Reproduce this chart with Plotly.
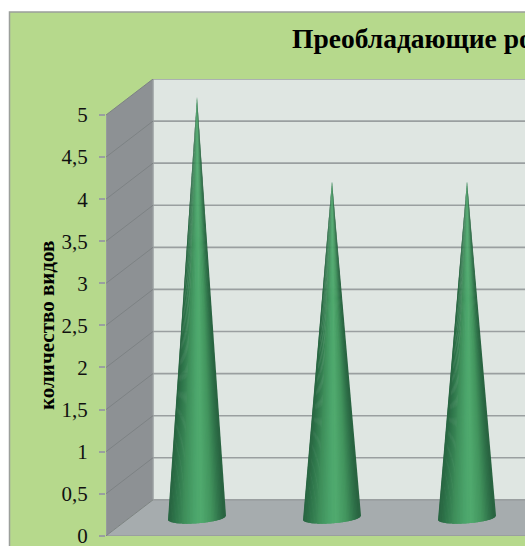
import numpy as np
import plotly.graph_objects as go

# --- data ---
cone_positions = [0, 1, 2]
cone_values = [5, 4, 4]
tick_values = [0, 0.5, 1, 1.5, 2, 2.5, 3, 3.5, 4, 4.5, 5]
tick_labels = ["0", "0,5", "1", "1,5", "2", "2,5", "3", "3,5", "4", "4,5", "5"]
title_text = "Преобладающие рода"
y_title = "количество видов"

# --- style ---
W, H = 525, 546
ML, MT, MB = 106, 79, 10
PX_X = 135.0
PX_Y = 84.2
DX = 47 / PX_X
DY = 36 / PX_Y
X0 = -91 / PX_X
X1 = X0 + (W - ML) / PX_X
Y1 = 5 + DY
HALF = 29 / PX_X
BMIN = 5.5 / PX_Y
TILT = 2.1 / PX_Y
N = 40
STOPS_U = [-1.0, -0.75, -0.4, 0.0, 0.2, 0.55, 0.85, 1.0]
STOPS_C = [(38, 96, 62), (46, 116, 74), (62, 142, 90), (76, 166, 108),
           (80, 170, 110), (66, 148, 94), (46, 112, 72), (40, 98, 64)]
GREY = "#9a9fa0"


def colour(u):
    c = [np.interp(u, STOPS_U, [s[k] for s in STOPS_C]) for k in range(3)]
    return "rgb(%d,%d,%d)" % tuple(int(round(v)) for v in c)


def base(pos, u):
    x = pos + HALF * u
    y = DY / 2 + TILT * u - BMIN * np.sqrt(max(0.0, 1 - u * u))
    return x, y


fig = go.Figure()

for pos, val in zip(cone_positions, cone_values):
    edges = np.linspace(-1, 1, N + 1)
    for i in range(N):
        a, b = edges[max(i - 1, 0)], edges[i + 1]
        mids = np.linspace(a, b, 5)
        pts = [base(pos, m) for m in mids]
        xs = [pos] + [p[0] for p in pts] + [pos]
        ys = [val + DY / 2] + [p[1] for p in pts] + [val + DY / 2]
        c = colour((edges[i] + edges[i + 1]) / 2)
        fig.add_trace(go.Scatter(x=xs, y=ys, mode="lines", fill="toself", fillcolor=c,
                                 line=dict(color=c, width=0), hoverinfo="skip",
                                 showlegend=False))

shapes = [
    dict(type="rect", xref="paper", yref="paper",
         x0=(9.5 - ML) / (W - ML), x1=1.05, y0=-0.1, y1=(H - MB - 12) / (H - MT - MB),
         fillcolor="#b6d98c", line=dict(color="#9b9f9b", width=1.5), layer="below"),
    dict(type="path", xref="x", yref="y", layer="below", line=dict(width=0), fillcolor="#8d9194",
         path=f"M{X0},0 L{X0 + DX},{DY} L{X0 + DX},{5 + DY} L{X0},5 Z"),
    dict(type="path", xref="x", yref="y", layer="below", line=dict(width=0), fillcolor="#a6acae",
         path=f"M{X0},0 L{X0 + DX},{DY} L{X1},{DY} L{X1},0 Z"),
    dict(type="rect", xref="x", yref="y", layer="below", line=dict(width=0), fillcolor="#dfe6e2",
         x0=X0 + DX, x1=X1, y0=DY, y1=5 + DY),
    dict(type="line", xref="x", yref="y", layer="below", line=dict(color=GREY, width=1.5),
         x0=X0 + DX, x1=X0 + DX, y0=DY, y1=5 + DY),
    dict(type="line", xref="x", yref="y", layer="below", line=dict(color=GREY, width=1.5),
         x0=X0, x1=X0, y0=0, y1=5),
    dict(type="line", xref="x", yref="y", layer="below", line=dict(color=GREY, width=1.5),
         x0=X0, x1=X1, y0=0, y1=0),
]
for t in tick_values:
    shapes.append(dict(type="line", xref="x", yref="y", layer="below",
                       line=dict(color=GREY, width=1.6),
                       x0=X0 + DX, x1=X1, y0=t + DY, y1=t + DY))
    shapes.append(dict(type="line", xref="x", yref="y", layer="below",
                       line=dict(color="#7d8284", width=1),
                       x0=X0, x1=X0 + DX, y0=t, y1=t + DY))

fig.update_layout(
    width=W, height=H, autosize=False,
    margin=dict(l=ML, r=0, t=MT, b=MB, pad=0, autoexpand=False),
    paper_bgcolor="white", plot_bgcolor="rgba(0,0,0,0)",
    showlegend=False, shapes=shapes,
    font=dict(family="Liberation Serif", color="black"),
    xaxis=dict(visible=False, range=[X0, X1], fixedrange=True),
    yaxis=dict(range=[-0.002, Y1], tickmode="array", tickvals=tick_values, ticktext=tick_labels,
               ticks="outside", ticklen=6, tickcolor=GREY, tickwidth=1.5,
               ticklabelstandoff=7, ticklabeloverflow="allow",
               tickfont=dict(size=21, family="Liberation Serif", color="#111"),
               showgrid=False, zeroline=False, showline=False,
               fixedrange=True),
    annotations=[
        dict(text=f"<b>{title_text}</b>", xref="paper", yref="paper", showarrow=False,
             x=(289.5 - ML) / (W - ML), xanchor="left", y=(H - MB - 39) / (H - MT - MB), yanchor="middle",
             font=dict(size=27.5, family="Liberation Serif", color="black")),
        dict(text=f"<b>{y_title}</b>", xref="paper", yref="paper", showarrow=False,
             textangle=-90, x=(47 - ML) / (W - ML), xanchor="center",
             y=(H - MB - 325) / (H - MT - MB), yanchor="middle",
             font=dict(size=21, family="Liberation Serif", color="black")),
    ],
)

fig.write_html("out.html", config=dict(displayModeBar=False),
               post_script="document.body.style.margin='0';document.documentElement.style.overflow='hidden';")
